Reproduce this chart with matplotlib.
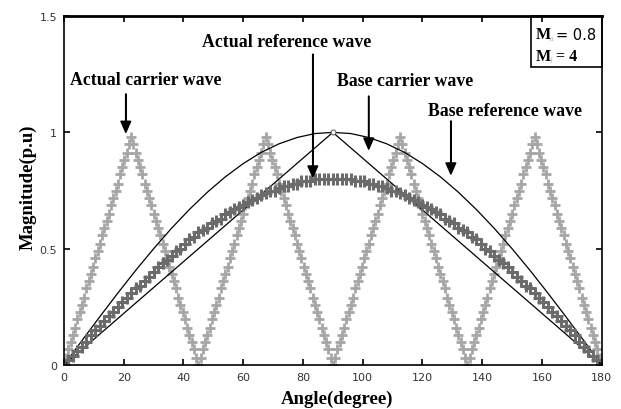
import matplotlib
matplotlib.use("Agg")
import matplotlib.pyplot as plt
from matplotlib.patches import Rectangle

# sample angles (degree), 0.75 step over one half cycle
angles = [0,
          0.75, 1.5, 2.25, 3, 3.75, 4.5, 5.25, 6, 6.75, 7.5, 8.25, 9, 9.75, 10.5, 11.25,
          12, 12.75, 13.5, 14.25, 15, 15.75, 16.5, 17.25, 18, 18.75, 19.5, 20.25, 21, 21.75, 22.5,
          23.25, 24, 24.75, 25.5, 26.25, 27, 27.75, 28.5, 29.25, 30, 30.75, 31.5, 32.25, 33, 33.75,
          34.5, 35.25, 36, 36.75, 37.5, 38.25, 39, 39.75, 40.5, 41.25, 42, 42.75, 43.5, 44.25, 45,
          45.75, 46.5, 47.25, 48, 48.75, 49.5, 50.25, 51, 51.75, 52.5, 53.25, 54, 54.75, 55.5, 56.25,
          57, 57.75, 58.5, 59.25, 60, 60.75, 61.5, 62.25, 63, 63.75, 64.5, 65.25, 66, 66.75, 67.5,
          68.25, 69, 69.75, 70.5, 71.25, 72, 72.75, 73.5, 74.25, 75, 75.75, 76.5, 77.25, 78, 78.75,
          79.5, 80.25, 81, 81.75, 82.5, 83.25, 84, 84.75, 85.5, 86.25, 87, 87.75, 88.5, 89.25, 90,
          90.75, 91.5, 92.25, 93, 93.75, 94.5, 95.25, 96, 96.75, 97.5, 98.25, 99, 99.75, 100.5, 101.25,
          102, 102.75, 103.5, 104.25, 105, 105.75, 106.5, 107.25, 108, 108.75, 109.5, 110.25, 111, 111.75, 112.5,
          113.25, 114, 114.75, 115.5, 116.25, 117, 117.75, 118.5, 119.25, 120, 120.75, 121.5, 122.25, 123, 123.75,
          124.5, 125.25, 126, 126.75, 127.5, 128.25, 129, 129.75, 130.5, 131.25, 132, 132.75, 133.5, 134.25, 135,
          135.75, 136.5, 137.25, 138, 138.75, 139.5, 140.25, 141, 141.75, 142.5, 143.25, 144, 144.75, 145.5, 146.25,
          147, 147.75, 148.5, 149.25, 150, 150.75, 151.5, 152.25, 153, 153.75, 154.5, 155.25, 156, 156.75, 157.5,
          158.25, 159, 159.75, 160.5, 161.25, 162, 162.75, 163.5, 164.25, 165, 165.75, 166.5, 167.25, 168, 168.75,
          169.5, 170.25, 171, 171.75, 172.5, 173.25, 174, 174.75, 175.5, 176.25, 177, 177.75, 178.5, 179.25, 180]

# actual carrier (Mf = 4), one value per angle
carrier = [0,
           .03, .07, .10, .13, .16, .20, .23, .26, .29, .33, .36, .39, .42, .46, .49,
           .52, .56, .59, .62, .65, .69, .72, .75, .78, .82, .85, .88, .91, .95, .98,
           .95, .91, .88, .85, .82, .78, .75, .72, .69, .65, .62, .59, .56, .52, .49,
           .46, .42, .39, .36, .33, .29, .26, .23, .20, .16, .13, .10, .07, .03, 0,
           .03, .07, .10, .13, .16, .20, .23, .26, .29, .33, .36, .39, .42, .46, .49,
           .52, .56, .59, .62, .65, .69, .72, .75, .78, .82, .85, .88, .91, .95, .98,
           .95, .91, .88, .85, .82, .78, .75, .72, .69, .65, .62, .59, .56, .52, .49,
           .46, .42, .39, .36, .33, .29, .26, .23, .20, .16, .13, .10, .07, .03, 0,
           .03, .07, .10, .13, .16, .20, .23, .26, .29, .33, .36, .39, .42, .46, .49,
           .52, .56, .59, .62, .65, .69, .72, .75, .78, .82, .85, .88, .91, .95, .98,
           .95, .91, .88, .85, .82, .78, .75, .72, .69, .65, .62, .59, .56, .52, .49,
           .46, .42, .39, .36, .33, .29, .26, .23, .20, .16, .13, .10, .07, .03, 0,
           .03, .07, .10, .13, .16, .20, .23, .26, .29, .33, .36, .39, .42, .46, .49,
           .52, .56, .59, .62, .65, .69, .72, .75, .78, .82, .85, .88, .91, .95, .98,
           .95, .91, .88, .85, .82, .78, .75, .72, .69, .65, .62, .59, .56, .52, .49,
           .46, .42, .39, .36, .33, .29, .26, .23, .20, .16, .13, .10, .07, .03, 0]

# actual reference (Ma = 0.8), every 1.5 degree
ref_angles = angles[::2]
reference = [0, .02, .04, .06, .08, .10, .13, .15, .17, .19, .21, .23, .25, .27, .29, .31,
             .33, .34, .36, .38, .40, .42, .44, .45, .47, .49, .50, .52, .54, .55, .57,
             .58, .59, .61, .62, .63, .65, .66, .67, .68, .69, .70, .71, .72, .73, .74,
             .75, .75, .76, .77, .77, .78, .78, .79, .79, .79, .80, .80, .80, .80, .80,
             .80, .80, .80, .80, .79, .79, .79, .78, .78, .77, .77, .76, .75, .75,
             .74, .73, .72, .71, .70, .69, .68, .67, .66, .65, .63, .62, .61, .59, .58,
             .57, .55, .54, .52, .50, .49, .47, .45, .44, .42, .40, .38, .36, .34, .33,
             .31, .29, .27, .25, .23, .21, .19, .17, .15, .13, .10, .08, .06, .04, .02, 0]

# base reference, every 6 degree
base_ref_angles = angles[::8]
base_reference = [0, .105, .208, .309, .407, .5, .588, .669, .743, .809, .866, .914, .951, .978, .995,
                  1, .995, .978, .951, .914, .866, .809, .743, .669, .588, .5, .407, .309, .208, .105, 0]

# base carrier (single triangle)
base_car_angles = [0, 90, 180]
base_carrier = [0, 1, 0]

fig = plt.figure(figsize=(6.21, 4.10), dpi=100)
ax = fig.add_axes([0.103, 0.107, 0.866, 0.8515])

ax.plot(angles, carrier, linestyle="none", marker="+", markersize=7, markeredgewidth=2,
        color="#a6a6a6")
ax.plot(base_ref_angles, base_reference, color="black", lw=0.9)
ax.plot(base_car_angles, base_carrier, color="black", lw=0.9)
ax.plot([90], [1], marker="o", markersize=3.5, mfc="white", mec="#555555", mew=0.7)
ax.plot(ref_angles, reference, linestyle="none", marker="+", markersize=8, markeredgewidth=2.2,
        color="#6b6b6b")

ax.set_xlim(0, 180)
ax.set_ylim(0, 1.5)
ax.set_xticks([0, 20, 40, 60, 80, 100, 120, 140, 160, 180])
ax.set_yticks([0, 0.5, 1, 1.5])
ax.set_yticklabels(["0", "0.5", "1", "1.5"])
ax.tick_params(direction="in", length=4, width=1.2, top=True, right=True,
               labelsize=8, labelcolor="#333333", pad=5)
for s in ax.spines.values():
    s.set_linewidth(1.2)
ax.spines["top"].set_linewidth(2)

lab = dict(family="Liberation Serif", weight="bold", fontsize=13.5)
ax.set_xlabel("Angle(degree)", **lab)
ax.set_ylabel("Magnitude(p.u)", **lab)
ax.xaxis.set_label_coords(0.507, -0.07)
ax.yaxis.set_label_coords(-0.05, 0.513)

# annotations with arrows
note = dict(family="Liberation Serif", weight="bold", fontsize=12.8, ha="center", va="center")
arrow = dict(facecolor="black", edgecolor="black", width=0.3, headwidth=7, headlength=8, shrink=0)

ax.text(27.3, 1.229, "Actual carrier wave", **note)
ax.annotate("", xy=(20.7, 1.0), xytext=(20.7, 1.165), arrowprops=arrow)

ax.text(74.6, 1.392, "Actual reference wave", **note)
ax.annotate("", xy=(83.3, 0.808), xytext=(83.3, 1.336), arrowprops=arrow)

ax.text(114.3, 1.225, "Base carrier wave", **note)
ax.annotate("", xy=(102.0, 0.928), xytext=(102.0, 1.156), arrowprops=arrow)

ax.text(147.5, 1.092, "Base reference wave", **note)
ax.annotate("", xy=(129.5, 0.821), xytext=(129.5, 1.049), arrowprops=arrow)

# modulation index box
ax.add_patch(Rectangle((0.868, 0.854), 0.132, 0.146, transform=ax.transAxes,
                       fill=False, edgecolor="black", lw=1.2, clip_on=False))
mtxt = dict(family="Liberation Serif", weight="bold", fontsize=11.5, va="center", ha="left")
ax.text(157.9, 1.422, "M", **mtxt)
ax.text(162.6, 1.405, "a", family="Liberation Serif", fontsize=6, color="#bbbbbb", va="center")
ax.text(164.6, 1.422, "= 0.8", family="DejaVu Sans", fontsize=10.5, va="center")
ax.text(157.9, 1.328, "M", **mtxt)
ax.text(162.6, 1.311, "f", family="Liberation Serif", fontsize=6, color="#bbbbbb", va="center")
ax.text(164.6, 1.328, "= 4", family="Liberation Serif", weight="bold", fontsize=11.5, va="center")

fig.savefig("out.png", dpi=100)
